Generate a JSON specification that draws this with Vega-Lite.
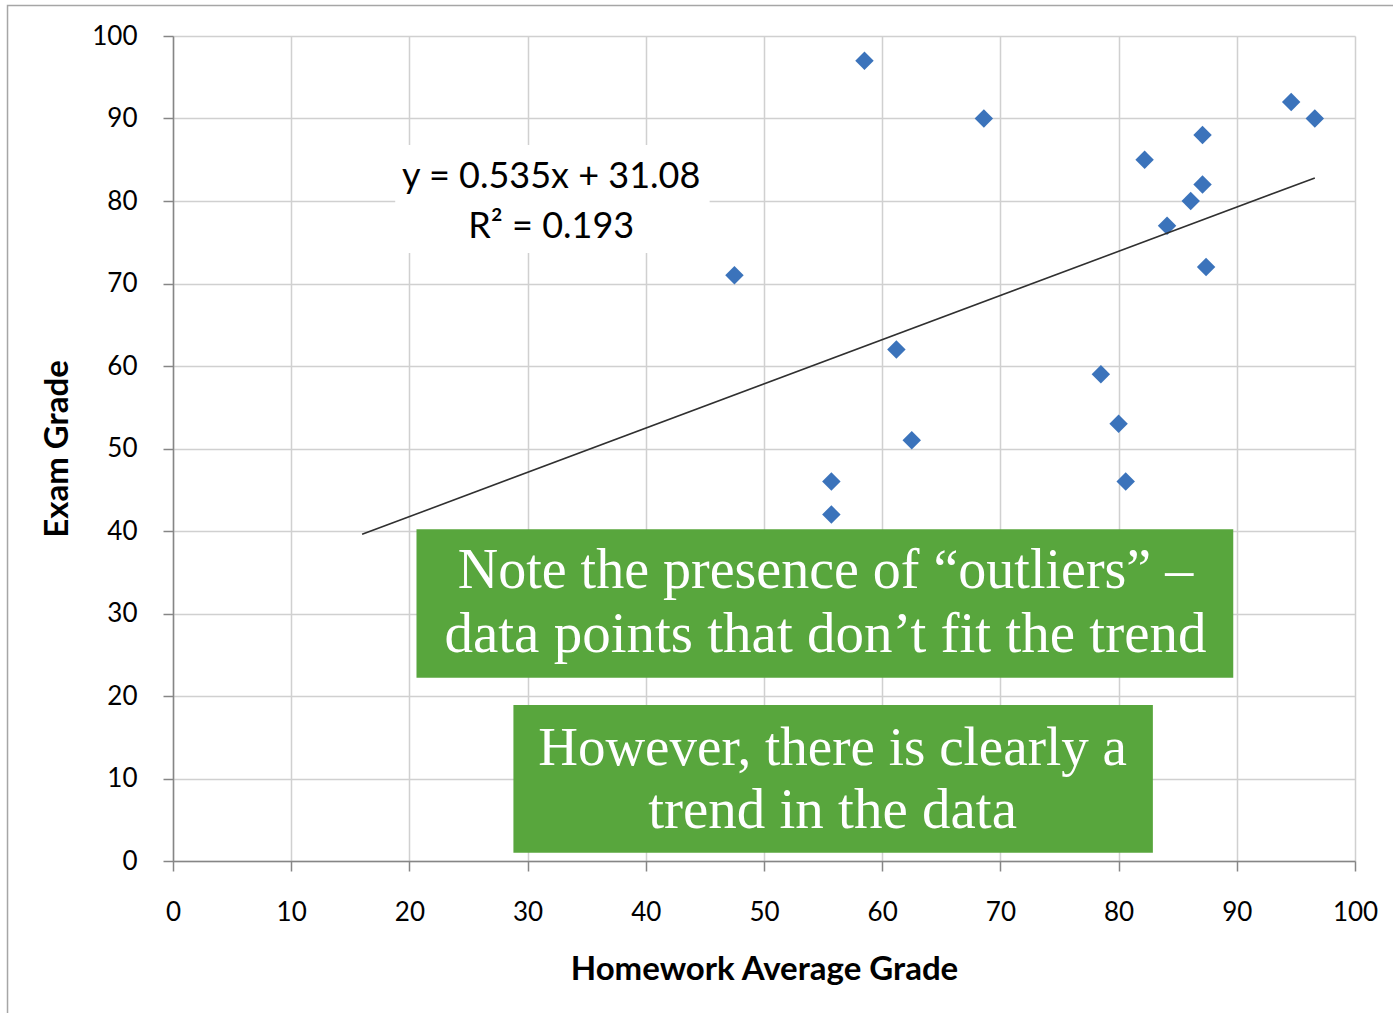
{
  "$schema": "https://vega.github.io/schema/vega-lite/v6.json",
  "width": 1182,
  "height": 825,
  "autosize": {"type": "none"},
  "padding": {"left": 173, "top": 36, "right": 38, "bottom": 152},
  "background": "white",
  "config": {
    "view": {"stroke": null},
    "axis": {
      "grid": true,
      "labelFont": "Lato", "labelFontSize": 26, "labelColor": "#000000", "labelFlush": false,
      "titleFont": "Lato", "titleFontSize": 33, "titleFontWeight": "bold", "titleColor": "#000000",
      "gridColor": "#d0d0d0", "gridWidth": 1.5,
      "domainColor": "#868686", "domainWidth": 1.5,
      "tickColor": "#868686", "tickWidth": 1.5, "tickSize": 10,
      "tickCount": 10
    },
    "axisX": {"labelPadding": 28, "titlePadding": 28},
    "axisY": {"labelPadding": 26, "titlePadding": 17}
  },
  "datasets": {
    "grades": [
      {"homework": 58.5, "exam": 97},
      {"homework": 68.6, "exam": 90},
      {"homework": 47.5, "exam": 71},
      {"homework": 82.2, "exam": 85},
      {"homework": 87.1, "exam": 88},
      {"homework": 87.1, "exam": 82},
      {"homework": 86.1, "exam": 80},
      {"homework": 84.1, "exam": 77},
      {"homework": 87.4, "exam": 72},
      {"homework": 94.6, "exam": 92},
      {"homework": 96.6, "exam": 90},
      {"homework": 61.2, "exam": 62},
      {"homework": 62.5, "exam": 51},
      {"homework": 55.7, "exam": 46},
      {"homework": 55.7, "exam": 42},
      {"homework": 78.5, "exam": 59},
      {"homework": 80.0, "exam": 53},
      {"homework": 80.6, "exam": 46}
    ],
    "trend": [
      {"homework": 16.0, "exam": 39.6},
      {"homework": 96.6, "exam": 82.8}
    ],
    "one": [{}]
  },
  "layer": [
    {
      "data": {"name": "one"},
      "mark": {"type": "rect", "fill": "transparent", "stroke": "#a6a6a6", "strokeWidth": 1.5, "clip": false},
      "encoding": {
        "x": {"datum": -14, "type": "quantitative", "scale": {"domain": [0, 100], "nice": false}, "title": "Homework Average Grade"},
        "x2": {"datum": 125},
        "y": {"datum": 103.7, "type": "quantitative", "scale": {"domain": [0, 100], "nice": false}, "title": "Exam Grade"},
        "y2": {"datum": -30}
      }
    },
    {
      "data": {"name": "grades"},
      "mark": {"type": "point", "shape": "diamond", "filled": true, "size": 340, "color": "#3b73bb", "opacity": 1},
      "encoding": {
        "x": {"field": "homework", "type": "quantitative", "scale": {"domain": [0, 100], "nice": false}, "title": "Homework Average Grade"},
        "y": {"field": "exam", "type": "quantitative", "scale": {"domain": [0, 100], "nice": false}, "title": "Exam Grade"}
      }
    },
    {
      "data": {"name": "trend"},
      "mark": {"type": "line", "color": "#303030", "strokeWidth": 1.6},
      "encoding": {
        "x": {"field": "homework", "type": "quantitative", "scale": {"domain": [0, 100], "nice": false}, "title": "Homework Average Grade"},
        "y": {"field": "exam", "type": "quantitative", "scale": {"domain": [0, 100], "nice": false}, "title": "Exam Grade"}
      }
    },
    {
      "data": {"name": "one"},
      "mark": {"type": "rect", "fill": "white"},
      "encoding": {
        "x": {"datum": 18.8, "type": "quantitative", "scale": {"domain": [0, 100], "nice": false}, "title": "Homework Average Grade"},
        "x2": {"datum": 45.4},
        "y": {"datum": 86.8, "type": "quantitative", "scale": {"domain": [0, 100], "nice": false}, "title": "Exam Grade"},
        "y2": {"datum": 73.7}
      }
    },
    {
      "data": {"name": "one"},
      "mark": {"type": "text", "text": ["y = 0.535x + 31.08", "R² = 0.193"], "font": "Lato", "fontSize": 36, "color": "#000000", "align": "center", "baseline": "middle", "lineHeight": 50},
      "encoding": {
        "x": {"datum": 32.0, "type": "quantitative", "scale": {"domain": [0, 100], "nice": false}, "title": "Homework Average Grade"},
        "y": {"datum": 82.9, "type": "quantitative", "scale": {"domain": [0, 100], "nice": false}, "title": "Exam Grade"}
      }
    },
    {
      "data": {"name": "one"},
      "mark": {"type": "rect", "fill": "#58a63d"},
      "encoding": {
        "x": {"datum": 20.6, "type": "quantitative", "scale": {"domain": [0, 100], "nice": false}, "title": "Homework Average Grade"},
        "x2": {"datum": 89.7},
        "y": {"datum": 40.2, "type": "quantitative", "scale": {"domain": [0, 100], "nice": false}, "title": "Exam Grade"},
        "y2": {"datum": 22.2}
      }
    },
    {
      "data": {"name": "one"},
      "mark": {"type": "rect", "fill": "#58a63d"},
      "encoding": {
        "x": {"datum": 28.8, "type": "quantitative", "scale": {"domain": [0, 100], "nice": false}, "title": "Homework Average Grade"},
        "x2": {"datum": 82.9},
        "y": {"datum": 18.9, "type": "quantitative", "scale": {"domain": [0, 100], "nice": false}, "title": "Exam Grade"},
        "y2": {"datum": 1.0}
      }
    },
    {
      "data": {"name": "one"},
      "mark": {"type": "text", "text": "Note the presence of “outliers” –", "font": "Liberation Serif", "fontSize": 56, "color": "white", "align": "center", "baseline": "alphabetic"},
      "encoding": {
        "x": {"datum": 55.2, "type": "quantitative", "scale": {"domain": [0, 100], "nice": false}, "title": "Homework Average Grade"},
        "y": {"datum": 33.1, "type": "quantitative", "scale": {"domain": [0, 100], "nice": false}, "title": "Exam Grade"}
      }
    },
    {
      "data": {"name": "one"},
      "mark": {"type": "text", "text": "data points that don’t fit the trend", "font": "Liberation Serif", "fontSize": 57, "color": "white", "align": "center", "baseline": "alphabetic"},
      "encoding": {
        "x": {"datum": 55.2, "type": "quantitative", "scale": {"domain": [0, 100], "nice": false}, "title": "Homework Average Grade"},
        "y": {"datum": 25.3, "type": "quantitative", "scale": {"domain": [0, 100], "nice": false}, "title": "Exam Grade"}
      }
    },
    {
      "data": {"name": "one"},
      "mark": {"type": "text", "text": "However, there is clearly a", "font": "Liberation Serif", "fontSize": 55, "color": "white", "align": "center", "baseline": "alphabetic"},
      "encoding": {
        "x": {"datum": 55.8, "type": "quantitative", "scale": {"domain": [0, 100], "nice": false}, "title": "Homework Average Grade"},
        "y": {"datum": 11.6, "type": "quantitative", "scale": {"domain": [0, 100], "nice": false}, "title": "Exam Grade"}
      }
    },
    {
      "data": {"name": "one"},
      "mark": {"type": "text", "text": "trend in the data", "font": "Liberation Serif", "fontSize": 57, "color": "white", "align": "center", "baseline": "alphabetic"},
      "encoding": {
        "x": {"datum": 55.8, "type": "quantitative", "scale": {"domain": [0, 100], "nice": false}, "title": "Homework Average Grade"},
        "y": {"datum": 4.0, "type": "quantitative", "scale": {"domain": [0, 100], "nice": false}, "title": "Exam Grade"}
      }
    }
  ]
}
